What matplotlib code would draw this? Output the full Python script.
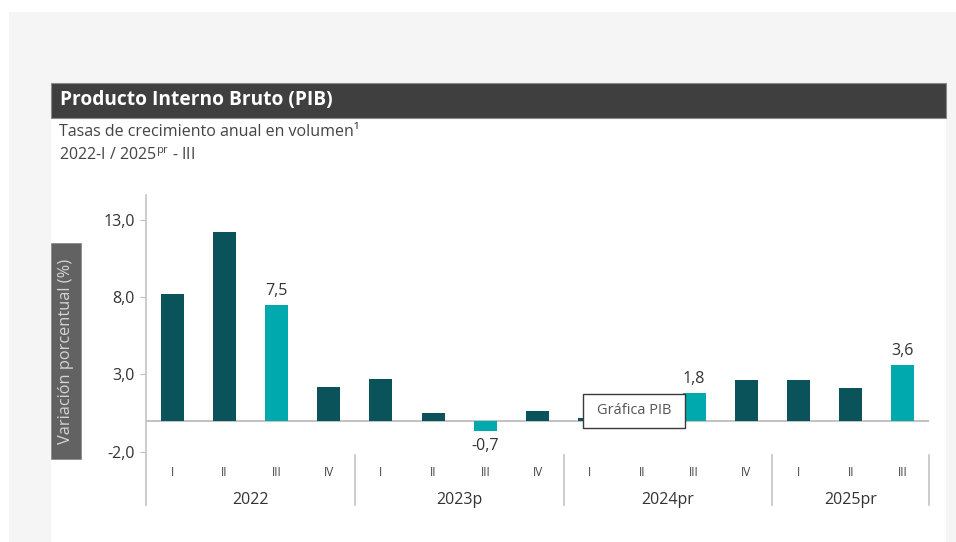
import numpy as np
import matplotlib
matplotlib.use("Agg")
from matplotlib import pyplot as plt
from matplotlib.patches import Rectangle

plt.rcParams['font.family'] = ['Open Sans', 'DejaVu Sans']

# datos
years = ["2022", "2023p", "2024pr", "2025pr"]
quarters = [["I", "II", "III", "IV"], ["I", "II", "III", "IV"],
            ["I", "II", "III", "IV"], ["I", "II", "III"]]
values = [8.2, 12.2, 7.5, 2.2,
          2.7, 0.5, -0.7, 0.6,
          0.2, 1.6, 1.8, 2.6,
          2.6, 2.1, 3.6]
highlight = [2, 6, 10, 14]          # barras en color claro con etiqueta
yticks = [-2.0, 3.0, 8.0, 13.0]

dark = "#0b535a"
light = "#00a9ad"
W, H = 956, 542

fig = plt.figure(figsize=(W / 100, H / 100), dpi=100)

def fx(px):
    return px / W

def fy(py):
    return 1 - py / H

# fondo gris y panel blanco
fig.patches.append(Rectangle((fx(9), 0), 1 - fx(9), fy(12), transform=fig.transFigure,
                             facecolor="#f5f5f5", edgecolor="none", zorder=0))
fig.patches.append(Rectangle((fx(51), 0), fx(946) - fx(51), fy(83), transform=fig.transFigure,
                             facecolor="white", edgecolor="none", zorder=0))
# barra del titulo
fig.patches.append(Rectangle((fx(51), fy(118)), fx(946) - fx(51), fy(83) - fy(118),
                             transform=fig.transFigure, facecolor="#3f3f3f",
                             edgecolor="#8a8a8a", lw=0.8, zorder=1))
fig.text(fx(60), fy(100.5), "Producto Interno Bruto (PIB)", color="white",
         fontsize=13.8, fontweight="bold", va="center", ha="left", zorder=2)
fig.text(fx(59), fy(132), "Tasas de crecimiento anual en volumen¹", color="#444444",
         fontsize=11.5, va="center", ha="left", zorder=2)
fig.text(fx(59), fy(156), r"2022-I / 2025$^{\mathregular{pr}}$ - III", color="#444444",
         fontsize=11.5, va="center", ha="left", zorder=2)

# caja del titulo del eje y
fig.patches.append(Rectangle((fx(51), fy(459)), fx(81) - fx(51), fy(243) - fy(459),
                             transform=fig.transFigure, facecolor="#626262",
                             edgecolor="#8a8a8a", lw=0.6, zorder=1))
fig.text(fx(66.5), fy(351), "Variación porcentual (%)", color="#d4d4d4",
         fontsize=11.8, rotation=90, va="center", ha="center", zorder=2)

ax = fig.add_axes([fx(146), fy(505), fx(929) - fx(146), fy(195) - fy(505)])
ax.set_facecolor("none")
ax.set_zorder(5)

x = np.arange(len(values))
colors = [light if i in highlight else dark for i in range(len(values))]
ax.bar(x, values, width=0.44, color=colors, zorder=3)

ppu = 77.3 / 5.0       # pixeles por unidad
y0 = 420.6
ax.set_ylim(-(505 - y0) / ppu, (y0 - 195) / ppu)
ax.set_xlim(-0.5, len(values) - 0.5)

ax.axhline(0, color="#bdbdbd", lw=1.3, zorder=2)

ax.set_yticks(yticks)
ax.set_yticklabels([f"{v:.1f}".replace(".", ",") for v in yticks])
ax.tick_params(axis="y", length=4, color="#bdbdbd", labelsize=11.5,
               labelcolor="#333333", pad=4)
ax.set_xticks([])
for s in ["top", "right", "bottom"]:
    ax.spines[s].set_visible(False)
ax.spines["left"].set_color("#c4c4c4")
ax.spines["left"].set_linewidth(1.2)

for i in highlight:
    v = values[i]
    lab = f"{v:.1f}".replace(".", ",")
    if v >= 0:
        ax.annotate(lab, (x[i], v), xytext=(0, 4), textcoords="offset points",
                    ha="center", va="bottom", fontsize=11.5, color="#333333")
    else:
        ax.annotate(lab, (x[i], v), xytext=(0, -5), textcoords="offset points",
                    ha="center", va="top", fontsize=11.5, color="#333333")

# eje de categorias en dos niveles
ybot = ax.get_ylim()[0]
sep_top = -(455 - y0) / ppu
q_y = -(472 - y0) / ppu
yr_y = -(500 - y0) / ppu
start = 0
for yr, qs in zip(years, quarters):
    for j, q in enumerate(qs):
        ax.text(start + j, q_y, q, ha="center", va="center", fontsize=8.5, color="#444444")
    ax.text(start + (len(qs) - 1) / 2, yr_y, yr, ha="center", va="center",
            fontsize=11.5, color="#333333")
    end = start + len(qs) - 0.5
    ax.plot([end, end], [ybot, sep_top], color="#c4c4c4", lw=1.2, clip_on=False)
    start += len(qs)

# recuadro "Gráfica PIB"
fig.patches.append(Rectangle((fx(583), fy(428)), fx(685) - fx(583), fy(394) - fy(428),
                             transform=fig.transFigure, facecolor="white",
                             edgecolor="#3a3a3a", lw=1.0, zorder=10))
fig.text(fx(634), fy(411), "Gráfica PIB", color="#555555", fontsize=10.5,
         ha="center", va="center", zorder=11)

plt.savefig("out.png", dpi=100)
plt.close()
